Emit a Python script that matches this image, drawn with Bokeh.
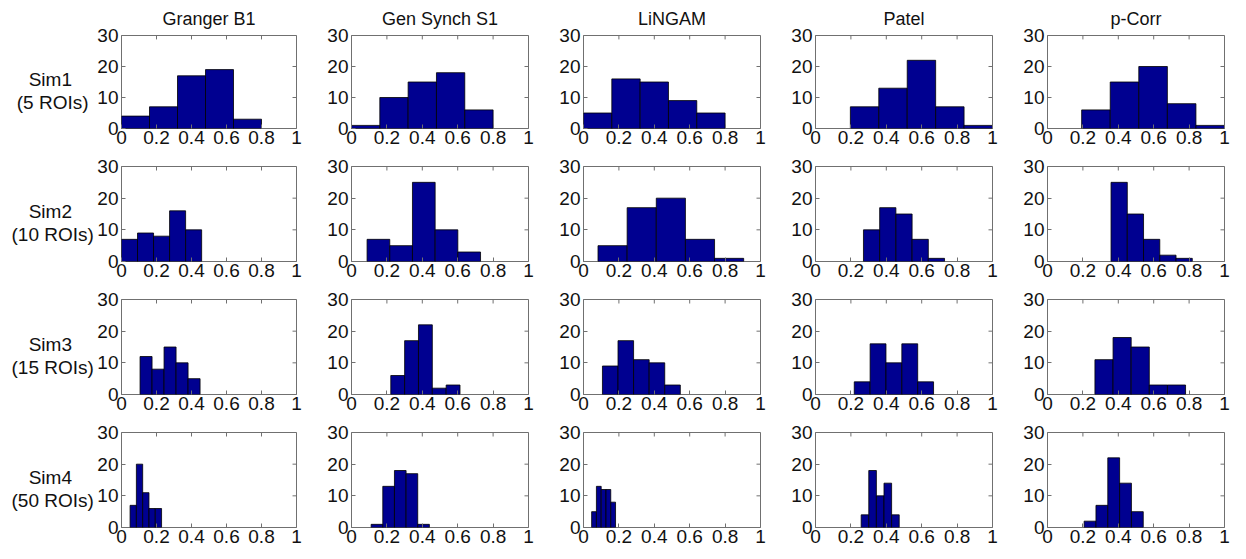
import numpy as np
from bokeh.plotting import figure
from bokeh.models import Range1d, FixedTicker, LinearAxis
from bokeh.core.properties import value
from bokeh.layouts import column, row
from bokeh.embed import file_html
from bokeh.resources import INLINE

# ---------------- data ----------------
methods = ["Granger B1", "Gen Synch S1", "LiNGAM", "Patel", "p-Corr"]
sim_names = ["Sim1", "Sim2", "Sim3", "Sim4"]
sim_rois = ["(5 ROIs)", "(10 ROIs)", "(15 ROIs)", "(50 ROIs)"]

x_ticks = [0, 0.2, 0.4, 0.6, 0.8, 1.0]
x_tick_labels = ["0", "0.2", "0.4", "0.6", "0.8", "1"]
y_ticks = [0, 10, 20, 30]
y_tick_labels = ["0", "10", "20", "30"]

# counts in the 5 histogram bins, one list per method (same order as methods)
sim1_counts = [[4, 7, 17, 19, 3], [1, 10, 15, 18, 6], [5, 16, 15, 9, 5], [7, 13, 22, 7, 1], [6, 15, 20, 8, 1]]
sim2_counts = [[7, 9, 8, 16, 10], [7, 5, 25, 10, 3], [5, 17, 20, 7, 1], [10, 17, 15, 7, 1], [25, 15, 7, 2, 1]]
sim3_counts = [[12, 8, 15, 10, 5], [6, 17, 22, 2, 3], [9, 17, 11, 10, 3], [4, 16, 10, 16, 4], [11, 18, 15, 3, 3]]
sim4_counts = [[7, 20, 11, 6, 6], [1, 13, 18, 17, 1], [5, 13, 12, 12, 8], [4, 18, 10, 14, 4], [2, 7, 22, 14, 5]]

# (lowest edge, highest edge) of the histogram bins, one per method
sim1_ranges = [(0.0, 0.8), (0.0, 0.8), (0.0, 0.8), (0.197, 1.0), (0.193, 1.0)]
sim2_ranges = [(0.0, 0.458), (0.088, 0.729), (0.082, 0.905), (0.271, 0.729), (0.359, 0.818)]
sim3_ranges = [(0.106, 0.449), (0.222, 0.613), (0.107, 0.547), (0.219, 0.667), (0.268, 0.78)]
sim4_ranges = [(0.049, 0.229), (0.111, 0.44), (0.046, 0.181), (0.258, 0.473), (0.207, 0.541)]

all_counts = [sim1_counts, sim2_counts, sim3_counts, sim4_counts]
all_ranges = [sim1_ranges, sim2_ranges, sim3_ranges, sim4_ranges]

# ---------------- style ----------------
FONT = "Liberation Sans"
FS = "19px"
FS_TITLE = "18px"
TXT = "#111111"
BAR = "#000090"
AX = "#707070"
FRAME_W, FRAME_H = 177, 95
LABEL_W = 94
LEFT_FIRST, LEFT_OTHER, RIGHT = 25, 47, 8
TOPS = [33, 10, 10, 10]
BOTTOMS = [28, 28, 28, 24]
TICK_PX = 4

X0, X1 = 0.0, 1.0
Y0, Y1 = 0.0, 30.0

x_over = {t: l for t, l in zip(x_ticks, x_tick_labels)}
y_over = {t: l for t, l in zip(y_ticks, y_tick_labels)}


def make_label_fig(r):
    h = TOPS[r] + FRAME_H + BOTTOMS[r]
    p = figure(width=LABEL_W, height=h, output_backend="svg", toolbar_location=None,
               x_range=Range1d(0, 1), y_range=Range1d(Y0, Y1),
               min_border_left=0, min_border_right=0,
               min_border_top=TOPS[r], min_border_bottom=BOTTOMS[r],
               x_axis_type=None, y_axis_type=None)
    p.grid.visible = False
    p.outline_line_color = None
    p.text(x=[0.53, 0.555], y=[15.8, 8.4], text=[sim_names[r], sim_rois[r]],
           text_align="center", text_baseline="middle",
           text_font=value(FONT), text_font_size=value(FS), text_color=TXT)
    return p


def make_panel(r, c):
    left = LEFT_FIRST if c == 0 else LEFT_OTHER
    w = left + FRAME_W + RIGHT
    h = TOPS[r] + FRAME_H + BOTTOMS[r]
    p = figure(width=w, height=h, output_backend="svg", toolbar_location=None,
               x_range=Range1d(X0, X1), y_range=Range1d(Y0, Y1),
               min_border_left=left, min_border_right=RIGHT,
               min_border_top=TOPS[r], min_border_bottom=BOTTOMS[r],
               x_axis_type=None, y_axis_type=None)
    p.grid.visible = False
    p.outline_line_color = AX
    p.outline_line_width = 1
    p.background_fill_color = "white"
    p.border_fill_color = "white"

    xa = LinearAxis(ticker=FixedTicker(ticks=x_ticks), major_label_overrides=x_over)
    ya = LinearAxis(ticker=FixedTicker(ticks=y_ticks), major_label_overrides=y_over)
    for a in (xa, ya):
        a.axis_line_color = None
        a.major_tick_in = TICK_PX
        a.major_tick_out = 0
        a.major_tick_line_color = AX
        a.minor_tick_line_color = None
        a.major_label_text_font = FONT
        a.major_label_text_font_size = FS
        a.major_label_text_color = TXT
    xa.major_label_standoff = 2
    ya.major_label_standoff = 3
    p.add_layout(xa, "below")
    p.add_layout(ya, "left")

    # inward ticks on the top and right edges of the box (MATLAB style)
    ty = TICK_PX * (Y1 - Y0) / FRAME_H
    tx = TICK_PX * (X1 - X0) / FRAME_W
    p.segment(x0=x_ticks, y0=[Y1] * len(x_ticks), x1=x_ticks, y1=[Y1 - ty] * len(x_ticks),
              line_color=AX, line_width=1)
    p.segment(x0=[X1] * len(y_ticks), y0=y_ticks, x1=[X1 - tx] * len(y_ticks), y1=y_ticks,
              line_color=AX, line_width=1)

    counts = all_counts[r][c]
    lo, hi = all_ranges[r][c]
    edges = np.linspace(lo, hi, len(counts) + 1)
    p.quad(left=edges[:-1], right=edges[1:], bottom=0, top=counts,
           fill_color=BAR, line_color="black", line_width=0.8)

    if r == 0:
        p.title.text = methods[c]
        p.title.align = "center"
        p.title.text_font = FONT
        p.title.text_font_size = FS_TITLE
        p.title.text_font_style = "normal"
        p.title.text_color = TXT
        p.title.standoff = 13
    return p


rows = []
for r in range(len(sim_names)):
    figs = [make_label_fig(r)] + [make_panel(r, c) for c in range(len(methods))]
    rows.append(row(*figs))
layout = column(*rows)

open("out.html", "w").write(file_html(layout, INLINE))
